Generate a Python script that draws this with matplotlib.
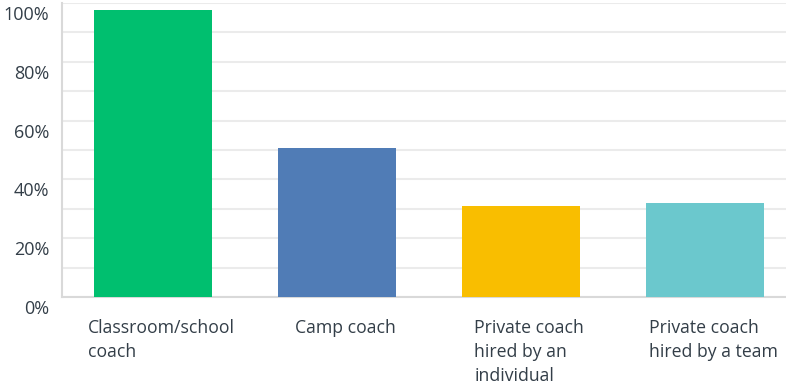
import matplotlib
matplotlib.use("Agg")
import matplotlib.pyplot as plt
from matplotlib.ticker import MultipleLocator, FuncFormatter
from matplotlib.transforms import ScaledTranslation

plt.rcParams["font.family"] = ["Open Sans", "DejaVu Sans"]

# survey answers, share of respondents (%)
categories = ["Classroom/school\ncoach", "Camp coach",
              "Private coach\nhired by an\nindividual", "Private coach\nhired by a team"]
values = [97.6, 50.7, 31.0, 32.0]
colors = ["#00bf6f", "#507cb6", "#f9be00", "#6bc8cd"]

text_col = "#333e48"
grid_col = "#ebebeb"

fig = plt.figure(figsize=(7.86, 3.85), dpi=100)
ax = fig.add_axes([62/786, 88/385, (786-62)/786, (297-3)/385])

x = range(len(values))
ax.bar(x, values, width=0.64, color=colors, zorder=3)

ax.set_ylim(0, 100)
ax.set_xlim(-0.495, 3.44)
ax.yaxis.set_major_locator(MultipleLocator(20))
ax.yaxis.set_minor_locator(MultipleLocator(10))
ax.yaxis.set_major_formatter(FuncFormatter(lambda v, p: f"{v:.0f}%"))
ax.grid(axis="y", which="both", color=grid_col, lw=1.5, zorder=0)
ax.tick_params(axis="y", which="both", length=0, pad=9, labelsize=13, labelcolor=text_col)
ax.set_xticks([])

for s in ["top", "right"]:
    ax.spines[s].set_visible(False)
for s in ["left", "bottom"]:
    ax.spines[s].set_color("#d9d9d9")
    ax.spines[s].set_linewidth(1.5)

# y labels sit a little below their gridline
shift = ScaledTranslation(0, -0.1, fig.dpi_scale_trans)
for lab in ax.get_yticklabels():
    lab.set_transform(lab.get_transform() + shift)

# category labels under the bars
for i, c in enumerate(categories):
    ax.annotate(c, xy=(i, 0), xycoords=("data", "axes fraction"),
                xytext=(6, -16), textcoords="offset points",
                ha="center", va="top", multialignment="left",
                fontsize=12.7, color=text_col, linespacing=1.43)

fig.savefig("out.png", dpi=100)
